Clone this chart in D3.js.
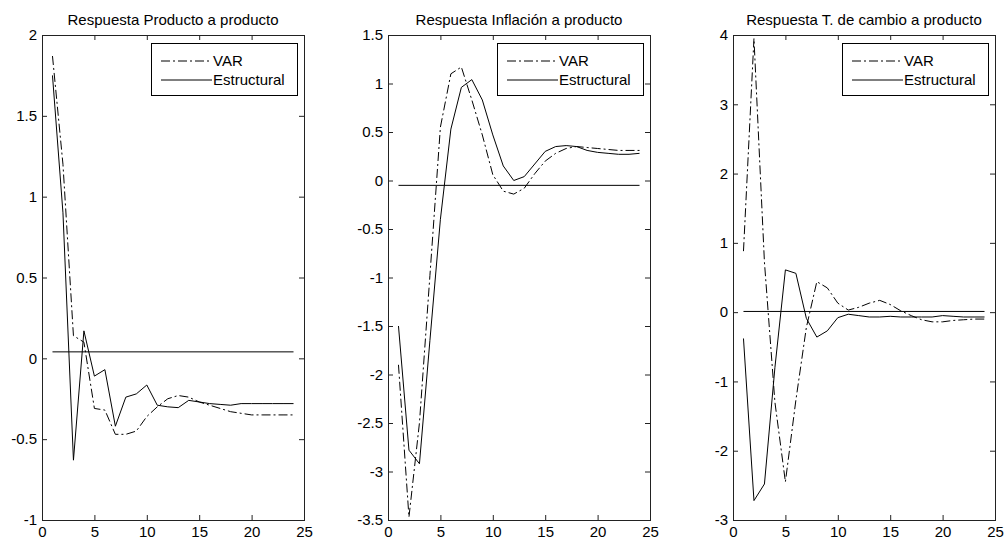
<!DOCTYPE html>
<html lang="es">
<head>
<meta charset="UTF-8">
<title>Respuestas a producto</title>
<style>
  body { margin: 0; background: #fff; }
  svg { display: block; }
  text { font-family: "Liberation Sans", Arial, sans-serif; fill: #000; }
  .tick line, .domain { stroke: #222; }
</style>
</head>
<body>
<script src="https://cdn.jsdelivr.net/npm/d3@7/dist/d3.min.js"></script>
<script>
// horizonte (periodos)
var periods = [1, 2, 3, 4, 5, 6, 7, 8, 9, 10, 11, 12, 13, 14, 15, 16, 17, 18, 19, 20, 21, 22, 23, 24];

var titles = ['Respuesta Producto a producto', 'Respuesta Inflación a producto', 'Respuesta T. de cambio a producto'];
var seriesNames = ['VAR', 'Estructural'];

// producto
var prodVAR = [1.87, 1.2, 0.14, 0.10, -0.31, -0.32, -0.47, -0.47, -0.45, -0.36, -0.30, -0.25, -0.23, -0.24, -0.27, -0.29, -0.31, -0.33, -0.34, -0.35, -0.35, -0.35, -0.35, -0.35];
var prodEstr = [1.75, 0.9, -0.63, 0.17, -0.11, -0.07, -0.42, -0.24, -0.22, -0.165, -0.29, -0.30, -0.305, -0.26, -0.27, -0.28, -0.285, -0.29, -0.28, -0.28, -0.28, -0.28, -0.28, -0.28];

// inflacion
var inflVAR = [-1.9, -3.47, -2.5, -0.98, 0.55, 1.1, 1.17, 0.83, 0.47, 0.06, -0.11, -0.14, -0.08, 0.07, 0.20, 0.28, 0.33, 0.35, 0.34, 0.33, 0.32, 0.31, 0.31, 0.31];
var inflEstr = [-1.5, -2.78, -2.92, -1.65, -0.4, 0.53, 0.96, 1.04, 0.83, 0.47, 0.15, 0.0, 0.04, 0.17, 0.30, 0.35, 0.36, 0.35, 0.31, 0.29, 0.28, 0.27, 0.27, 0.28];

// tipo de cambio
var tcVAR = [0.88, 3.95, 0.72, -1.3, -2.45, -1.27, -0.22, 0.44, 0.35, 0.13, 0.03, 0.07, 0.13, 0.17, 0.11, 0.02, -0.05, -0.11, -0.14, -0.14, -0.12, -0.11, -0.10, -0.10];
var tcEstr = [-0.38, -2.72, -2.48, -0.8, 0.61, 0.56, -0.09, -0.36, -0.27, -0.08, -0.03, -0.05, -0.07, -0.07, -0.06, -0.07, -0.07, -0.07, -0.07, -0.05, -0.06, -0.07, -0.07, -0.07];

// linea de referencia de cada panel
var refLevels = [0.04, -0.05, 0.01];

var xDomain = [0, 25];
var xTicks = [0, 5, 10, 15, 20, 25];
var yDomains = [[-1, 2], [-3.5, 1.5], [-3, 4]];
var yTicks = [
    [-1, -0.5, 0, 0.5, 1, 1.5, 2],
    [-3.5, -3, -2.5, -2, -1.5, -1, -0.5, 0, 0.5, 1, 1.5],
    [-3, -2, -1, 0, 1, 2, 3, 4]
];

var panels = [
    { title: titles[0], varS: prodVAR, estr: prodEstr, ref: refLevels[0], yDom: yDomains[0], yTicks: yTicks[0] },
    { title: titles[1], varS: inflVAR, estr: inflEstr, ref: refLevels[1], yDom: yDomains[1], yTicks: yTicks[1] },
    { title: titles[2], varS: tcVAR, estr: tcEstr, ref: refLevels[2], yDom: yDomains[2], yTicks: yTicks[2] }
];

var W = 1006, H = 544;
var lefts = [42, 388, 733];
var plotTop = 35, pw = 262, ph = 485;
var tick = 5;
var dashDot = '9,3,2,3';

var svg = d3.select('body').append('svg')
    .attr('width', W)
    .attr('height', H);

panels.forEach(function(p, i) {
    var g = svg.append('g').attr('transform', 'translate(' + lefts[i] + ',' + plotTop + ')');

    var x = d3.scaleLinear().domain(xDomain).range([0, pw]);
    var y = d3.scaleLinear().domain(p.yDom).range([ph, 0]);
    var fmt = function(d) { return String(d); };

    // ejes con marcas hacia dentro
    g.append('g').attr('transform', 'translate(0,' + ph + ')')
        .call(d3.axisBottom(x).tickValues(xTicks).tickFormat(fmt).tickSizeInner(-tick).tickSizeOuter(0).tickPadding(6));
    g.append('g')
        .call(d3.axisLeft(y).tickValues(p.yTicks).tickFormat(fmt).tickSizeInner(-tick).tickSizeOuter(0).tickPadding(5));
    g.append('g')
        .call(d3.axisTop(x).tickValues(xTicks).tickFormat('').tickSizeInner(-tick).tickSizeOuter(0));
    g.append('g').attr('transform', 'translate(' + pw + ',0)')
        .call(d3.axisRight(y).tickValues(p.yTicks).tickFormat('').tickSizeInner(-tick).tickSizeOuter(0));

    g.selectAll('.tick text').style('font-size', '15px').attr('font-family', null);

    g.append('rect')
        .attr('x', 0.5).attr('y', 0.5)
        .attr('width', pw).attr('height', ph)
        .attr('fill', 'none').attr('stroke', '#222');

    var line = function(vals) {
        return d3.line()
            .x(function(d, j) { return x(periods[j]); })
            .y(function(d) { return y(d); })(vals);
    };

    g.append('path').attr('d', line(p.varS))
        .attr('fill', 'none').attr('stroke', '#000').attr('stroke-width', 1)
        .attr('stroke-dasharray', dashDot);
    g.append('path').attr('d', line(p.estr))
        .attr('fill', 'none').attr('stroke', '#000').attr('stroke-width', 1);

    g.append('line')
        .attr('x1', x(periods[0])).attr('x2', x(periods[periods.length - 1]))
        .attr('y1', y(p.ref)).attr('y2', y(p.ref))
        .attr('stroke', '#000').attr('stroke-width', 1);

    // titulo
    g.append('text')
        .attr('x', pw / 2).attr('y', -10)
        .attr('text-anchor', 'middle')
        .style('font-size', '15px')
        .text(p.title);

    // leyenda
    var lw = 146, lh = 52;
    var lg = g.append('g').attr('transform', 'translate(' + (pw - 7 - lw) + ',8)');
    lg.append('rect').attr('x', 0.5).attr('y', 0.5).attr('width', lw).attr('height', lh)
        .attr('fill', '#fff').attr('stroke', '#000');
    seriesNames.forEach(function(name, k) {
        var cy = 18 + k * 19;
        lg.append('line').attr('x1', 10).attr('x2', 61).attr('y1', cy).attr('y2', cy)
            .attr('stroke', '#000').attr('stroke-dasharray', k === 0 ? dashDot : null);
        lg.append('text').attr('x', 62).attr('y', cy + 5)
            .style('font-size', '15px')
            .text(name);
    });
});
</script>
</body>
</html>
